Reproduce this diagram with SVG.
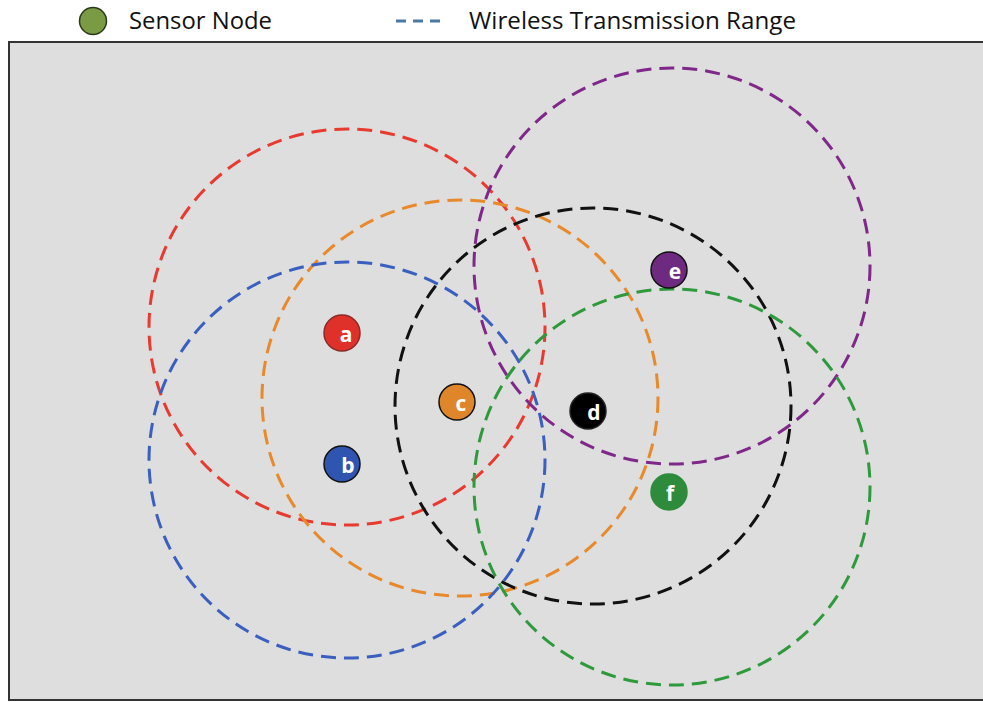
<svg xmlns="http://www.w3.org/2000/svg" width="983" height="702" viewBox="0 0 983 702">
  <defs>
    <style>
      .legend { font-family: "Open Sans", "Liberation Sans", sans-serif; font-size: 23px; fill: #111; }
      .range { fill: none; stroke-width: 3; stroke-dasharray: 15 8; }
      .node circle { stroke-width: 1.5; }
      .node text { font-family: "Open Sans", "Liberation Sans", sans-serif; font-size: 21px; font-weight: bold; fill: #fff; text-anchor: middle; }
    </style>
  </defs>

  <rect width="983" height="702" fill="#ffffff"/>

  <!-- legend -->
  <g id="legend">
    <circle cx="93" cy="21" r="13.5" fill="#7a9a44" stroke="#2a3a1a" stroke-width="1.5"/>
    <text class="legend" x="129" y="29" textLength="143" lengthAdjust="spacingAndGlyphs">Sensor Node</text>
    <line x1="396" y1="21" x2="440" y2="21" stroke="#4a78a8" stroke-width="3" stroke-dasharray="10 7"/>
    <text class="legend" x="469" y="29" textLength="327" lengthAdjust="spacingAndGlyphs">Wireless Transmission Range</text>
  </g>

  <!-- field -->
  <rect id="field" x="9" y="42" width="980" height="658" fill="#dedede" stroke="#333" stroke-width="2"/>

  <!-- transmission ranges -->
  <g id="connectors">
    <circle class="range" cx="347" cy="327" r="198" stroke="#e83a2e"/>
    <circle class="range" cx="460" cy="398" r="198" stroke="#e8892c"/>
    <circle class="range" cx="347" cy="460" r="198" stroke="#3a5fbf"/>
    <circle class="range" cx="593" cy="406" r="198" stroke="#111111"/>
    <circle class="range" cx="672" cy="266" r="198" stroke="#80288a"/>
    <circle class="range" cx="672" cy="487" r="198" stroke="#2e9a3c"/>
  </g>

  <!-- sensor nodes -->
  <g id="node-a" class="node">
    <circle cx="342" cy="333" r="18" fill="#e0302a" stroke="#8a2a2a"/>
    <text x="346" y="342">a</text>
  </g>
  <g id="node-b" class="node">
    <circle cx="342" cy="464" r="18" fill="#2f55b0" stroke="#111"/>
    <text x="348" y="473">b</text>
  </g>
  <g id="node-c" class="node">
    <circle cx="457" cy="402" r="18" fill="#e0862a" stroke="#111"/>
    <text x="461" y="411">c</text>
  </g>
  <g id="node-d" class="node">
    <circle cx="588" cy="411" r="18" fill="#000000" stroke="#222"/>
    <text x="594" y="420">d</text>
  </g>
  <g id="node-e" class="node">
    <circle cx="669" cy="270" r="18" fill="#6e2a80" stroke="#111"/>
    <text x="675" y="279">e</text>
  </g>
  <g id="node-f" class="node">
    <circle cx="669" cy="492" r="18" fill="#2e8b3c" stroke="#2e8b3c"/>
    <text x="670" y="501">f</text>
  </g>
</svg>
